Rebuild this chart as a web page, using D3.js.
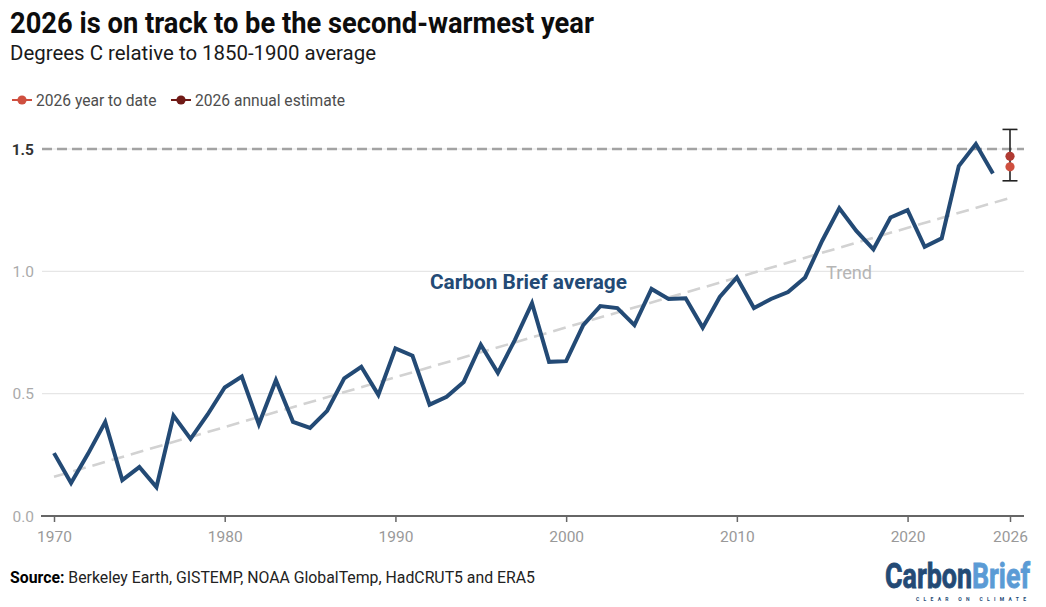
<!DOCTYPE html>
<html>
<head>
<meta charset="utf-8">
<script src="https://cdn.jsdelivr.net/npm/d3@7"></script>
<style>
  html, body { margin: 0; padding: 0; background: #fff; }
  svg { display: block; }
  text { font-family: Roboto, sans-serif; }
</style>
</head>
<body>
<script>
const YEARS = d3.range(1970, 2026)
const AVERAGE = [
  0.257, 0.135, 0.255, 0.384, 0.147, 0.200, 0.118, 0.410, 0.315, 0.415,
  0.525, 0.570, 0.375, 0.555, 0.385, 0.360, 0.430, 0.563, 0.610, 0.495,
  0.685, 0.655, 0.455, 0.487, 0.548, 0.700, 0.585, 0.720, 0.870, 0.630,
  0.633, 0.780, 0.858, 0.850, 0.780, 0.928, 0.887, 0.890, 0.770, 0.895,
  0.975, 0.850, 0.887, 0.915, 0.975, 1.125, 1.258, 1.165, 1.090, 1.220,
  1.250, 1.100, 1.135, 1.430, 1.520, 1.400
]
const TREND_YEARS = [1970, 2026]
const TREND_VALUES = [0.16, 1.30]
const YTD_2026 = 1.427
const ESTIMATE_2026 = 1.47
const RANGE_2026 = [1.37, 1.58]
const X_TICKS = [1970, 1980, 1990, 2000, 2010, 2020, 2026]
const Y_TICKS = [0, 0.5, 1, 1.5]
const LEGEND = ['2026 year to date', '2026 annual estimate']

const WIDTH = 1046
const HEIGHT = 607
const NAVY = '#234a75'
const YTD_RED = '#cf4f3f'
const EST_RED = '#b03a32'
const LEGEND_DARK = '#701a16'

const svg = d3.select('body')
  .append('svg')
  .attr('width', WIDTH)
  .attr('height', HEIGHT)

const x = d3.scaleLinear().domain([1970, 2026]).range([54, 1010])
const y = d3.scaleLinear().domain([0, 1.5]).range([516, 149])

// gridlines
svg.selectAll('.grid')
  .data(Y_TICKS.slice(1))
  .enter()
  .append('line')
  .attr('x1', 42)
  .attr('x2', 1024)
  .attr('y1', d => y(d))
  .attr('y2', d => y(d))
  .attr('stroke', '#e6e6e6')
  .attr('stroke-width', 1.2)

// y labels
svg.selectAll('.ylab')
  .data(Y_TICKS)
  .enter()
  .append('text')
  .attr('x', 34)
  .attr('y', d => y(d) + 5.5)
  .attr('text-anchor', 'end')
  .attr('font-size', 15.5)
  .attr('font-weight', d => d === 1.5 ? 700 : 400)
  .attr('fill', d => d === 1.5 ? '#333' : '#aaa')
  .text(d => d.toFixed(1))

// x axis
const xAxis = d3.axisBottom(x)
  .tickValues(X_TICKS)
  .tickFormat(d3.format('d'))
  .tickSize(6)
  .tickPadding(9)

const xg = svg.append('g')
  .attr('transform', `translate(0,${y(0)})`)
  .call(xAxis)
xg.select('.domain').remove()
xg.selectAll('line').attr('stroke', '#666').attr('stroke-width', 1.5)
xg.selectAll('text')
  .attr('font-size', 15.5)
  .attr('font-family', 'Roboto, sans-serif')
  .attr('fill', '#999')
xg.append('line')
  .attr('x1', 41)
  .attr('x2', 1024)
  .attr('stroke', '#666')
  .attr('stroke-width', 2)

// 1.5 reference
svg.append('line')
  .attr('x1', 42)
  .attr('x2', 1024)
  .attr('y1', y(1.5))
  .attr('y2', y(1.5))
  .attr('stroke', '#a3a3a3')
  .attr('stroke-width', 2.4)
  .attr('stroke-dasharray', '10 5')

// trend
svg.append('path')
  .datum(TREND_YEARS.map((yr, i) => [yr, TREND_VALUES[i]]))
  .attr('fill', 'none')
  .attr('stroke', '#d2d2d2')
  .attr('stroke-width', 2.6)
  .attr('stroke-dasharray', '13 7')
  .attr('d', d3.line().x(d => x(d[0])).y(d => y(d[1])))

// annual line
svg.append('path')
  .datum(YEARS.map((yr, i) => [yr, AVERAGE[i]]))
  .attr('fill', 'none')
  .attr('stroke', NAVY)
  .attr('stroke-width', 4)
  .attr('stroke-linejoin', 'miter')
  .attr('d', d3.line().x(d => x(d[0])).y(d => y(d[1])))

// 2026 error bar
svg.append('line')
  .attr('x1', x(2026)).attr('x2', x(2026))
  .attr('y1', y(RANGE_2026[0])).attr('y2', y(RANGE_2026[1]))
  .attr('stroke', '#222').attr('stroke-width', 1.6)
svg.selectAll('.cap')
  .data(RANGE_2026)
  .enter()
  .append('line')
  .attr('x1', x(2026) - 7.5).attr('x2', x(2026) + 7.5)
  .attr('y1', d => y(d)).attr('y2', d => y(d))
  .attr('stroke', '#222').attr('stroke-width', 1.6)

svg.append('circle')
  .attr('cx', x(2026)).attr('cy', y(ESTIMATE_2026)).attr('r', 4.6)
  .attr('fill', EST_RED)
svg.append('circle')
  .attr('cx', x(2026)).attr('cy', y(YTD_2026)).attr('r', 4.6)
  .attr('fill', YTD_RED)

// annotations
svg.append('text')
  .attr('x', 430).attr('y', 289)
  .attr('font-size', 20.8).attr('font-weight', 700)
  .attr('fill', NAVY)
  .text('Carbon Brief average')
svg.append('text')
  .attr('x', 826).attr('y', 279)
  .attr('font-size', 18.2)
  .attr('fill', '#b5b5b5')
  .text('Trend')

// header
svg.append('text')
  .attr('x', 10).attr('y', 33)
  .attr('font-family', '"Noto Sans", sans-serif')
  .attr('font-size', 29).attr('font-weight', 700)
  .attr('textLength', 584).attr('lengthAdjust', 'spacingAndGlyphs')
  .attr('fill', '#0d0d0d')
  .text('2026 is on track to be the second-warmest year')
svg.append('text')
  .attr('x', 10).attr('y', 60)
  .attr('font-family', '"Noto Sans", sans-serif')
  .attr('font-size', 20.5)
  .attr('textLength', 366).attr('lengthAdjust', 'spacingAndGlyphs')
  .attr('fill', '#1a1a1a')
  .text('Degrees C relative to 1850-1900 average')

// legend
const legendX = [12, 171]
const legendColors = [YTD_RED, LEGEND_DARK]
const lg = svg.selectAll('.lg')
  .data(LEGEND)
  .enter()
  .append('g')
  .attr('transform', (d, i) => `translate(${legendX[i]},100)`)
lg.append('line')
  .attr('x1', 0).attr('x2', 20)
  .attr('stroke', (d, i) => legendColors[i]).attr('stroke-width', 2)
lg.append('circle')
  .attr('cx', 10).attr('r', 4.6)
  .attr('fill', (d, i) => legendColors[i])
lg.append('text')
  .attr('x', 24).attr('y', 5.5)
  .attr('font-size', 15.6)
  .attr('fill', '#4d4d4d')
  .text(d => d)

// source
const source = svg.append('text')
  .attr('x', 10).attr('y', 583)
  .attr('font-family', '"Noto Sans", sans-serif')
  .attr('font-size', 16)
  .attr('textLength', 525).attr('lengthAdjust', 'spacingAndGlyphs')
  .attr('fill', '#222')
source.append('tspan').attr('font-weight', 700).attr('fill', '#000').text('Source:')
source.append('tspan').text(' Berkeley Earth, GISTEMP, NOAA GlobalTemp, HadCRUT5 and ERA5')

// logo, squeezed with a scale so the text box matches what is drawn
const logoWords = [['Carbon', 885, 87, NAVY], ['Brief', 972, 58, '#5b9bd5']]
logoWords.forEach(([word, left, w, colour]) => {
  const t = svg.append('text')
    .attr('font-family', '"Liberation Sans Narrow", "Liberation Sans", sans-serif')
    .attr('font-size', 35).attr('font-weight', 700)
    .attr('fill', colour).attr('stroke', colour).attr('stroke-width', 0.8)
    .text(word)
  const sx = w / t.node().getComputedTextLength()
  t.attr('transform', `translate(${left},588) scale(${sx},1)`)
})
svg.append('text')
  .attr('x', 916).attr('y', 601)
  .attr('font-size', 5).attr('font-weight', 700)
  .attr('textLength', 110)
  .attr('fill', NAVY)
  .text('CLEAR ON CLIMATE')
</script>
</body>
</html>
